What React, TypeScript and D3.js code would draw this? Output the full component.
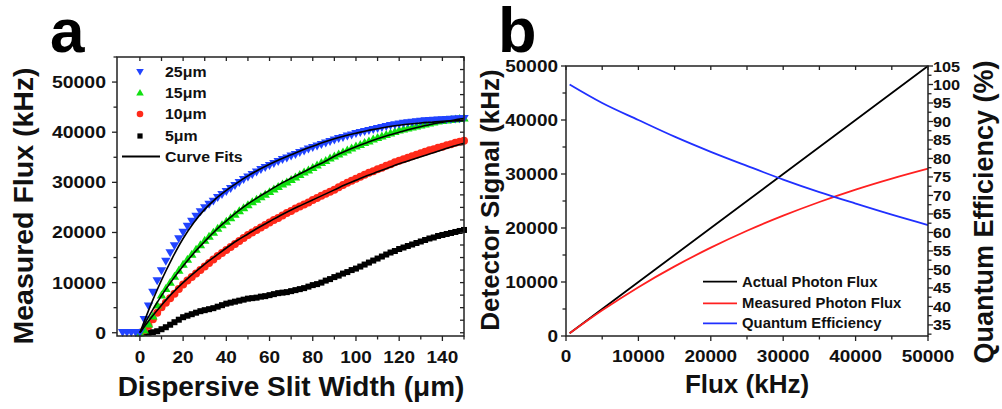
import React from "react";
import * as d3 from "d3";

// ---------- Panel a data ----------
const SLIT = [-8,-6,-4,-2,0,2,4,6,8,10,12,14,16,18,20,22,24,26,28,30,32,34,36,38,40,42,44,46,48,50,52,54,56,58,60,62,64,66,68,70,72,74,76,78,80,82,84,86,88,90,92,94,96,98,100,102,104,106,108,110,112,114,116,118,120,122,124,126,128,130,132,134,136,138,140,142,144,146,148,150];

const S25 = [0,0,0,0,0,2600,5300,8000,10300,12300,14200,15900,17300,18700,20000,21200,22200,23200,24100,24900,25600,26200,26900,27500,28100,28700,29300,29900,30500,31000,31500,32000,32500,32900,33300,33700,34100,34500,34800,35200,35500,35900,36200,36600,36900,37200,37500,37800,38100,38400,38700,38900,39200,39400,39700,39900,40100,40300,40500,40700,40900,41100,41300,41450,41600,41750,41850,41950,42050,42150,42250,42300,42350,42400,42450,42500,42550,42600,42650,42700];

const S15 = [null,null,null,null,0,600,1800,3400,5600,7600,8900,10100,11300,12500,13700,14700,15700,16700,17600,18500,19300,20100,20900,21600,22300,23000,23700,24400,25000,25600,26200,26700,27200,27700,28200,28700,29200,29700,30100,30600,31100,31600,32100,32500,33000,33500,34000,34400,34900,35300,35700,36100,36500,36900,37300,37600,38000,38300,38700,39000,39300,39600,39900,40200,40500,40700,40900,41100,41300,41500,41700,41900,42100,42300,42400,42500,42600,42700,42800,42900];

const S10 = [null,null,null,null,0,500,1400,2700,4000,5100,6000,6900,7800,8700,9600,10400,11100,11800,12500,13200,13900,14600,15300,15900,16500,17100,17700,18300,18900,19500,20000,20500,21000,21500,22000,22500,22900,23400,23900,24300,24800,25200,25600,26000,26500,26900,27300,27700,28100,28500,29000,29450,29900,30300,30700,31100,31500,31900,32200,32600,32900,33300,33600,34000,34300,34600,34900,35200,35500,35800,36100,36400,36600,36900,37100,37400,37600,37900,38100,38300];

const S5 = [null,null,null,null,0,0,0,100,300,700,1100,1600,2100,2600,3100,3400,3700,4000,4300,4500,4700,4900,5200,5500,5800,6000,6200,6400,6600,6800,6900,7000,7200,7300,7500,7700,7900,8000,8100,8300,8500,8700,8900,9200,9500,9700,10000,10400,10700,11100,11400,11800,12100,12500,12800,13200,13600,14000,14400,14800,15200,15600,16000,16300,16700,17000,17300,17600,17900,18200,18500,18800,19000,19300,19500,19700,19900,20100,20300,20500];

const FIT_X = [0,5,10,15,20,25,30,35,40,45,50,55,60,65,70,75,80,85,90,95,100,105,110,115,120,125,130,135,140,145,150];
const FIT25 = [0,5500,10500,14900,18800,22000,24600,26700,28400,29900,31300,32500,33600,34600,35500,36400,37200,38000,38700,39300,39800,40300,40700,41100,41400,41650,41850,42000,42150,42250,42300];
const FIT15 = [0,3900,7400,10500,13300,15900,18200,20400,22300,24100,25700,27100,28400,29700,30800,31900,33000,34000,35200,36200,37100,37900,38700,39400,40000,40600,41100,41600,42000,42400,42700];
const FIT10 = [0,2900,5500,7900,10000,11900,13700,15300,16900,18400,19700,21000,22200,23400,24500,25500,26500,27500,28500,29500,30400,31300,32100,32900,33700,34400,35100,35800,36500,37200,37800];

const A_XTICKS = [0,20,40,60,80,100,120,140];
const A_YTICKS = [0,10000,20000,30000,40000,50000];
const A_LEGEND = ["25\u03bcm","15\u03bcm","10\u03bcm","5\u03bcm","Curve Fits"];

// ---------- Panel b data ----------
const FLUX = [500,5000,10000,15000,20000,25000,30000,35000,40000,45000,50000];
const ACTUAL = [500,5000,10000,15000,20000,25000,30000,35000,40000,45000,50000];
const MEASURED = [500,4750,9040,12890,16360,19500,22290,24820,27120,29160,31000];
const QE = [100.0,95.0,90.4,85.9,81.8,78.0,74.3,70.9,67.8,64.8,62.0];

const B_XTICKS = [0,10000,20000,30000,40000,50000];
const B_YTICKS = [0,10000,20000,30000,40000,50000];
const B_RTICKS = [35,40,45,50,55,60,65,70,75,80,85,90,95,100,105];
const B_LEGEND = ["Actual Photon Flux","Measured Photon Flux","Quantum Efficiency"];

const FONT = "'Liberation Sans', Arial, Helvetica, sans-serif";
const BLUE = "#2244ff";
const GREEN = "#11e011";
const RED = "#ff2a1a";
const AXC = "#222";

function T({ x, y, s = 1, size, anchor = "start", children }: any) {
  return (
    <text
      transform={`translate(${x},${y}) scale(${s},1)`}
      fontSize={size}
      fontWeight="bold"
      fontFamily={FONT}
      textAnchor={anchor}
      fill="#111"
    >
      {children}
    </text>
  );
}

export default function App() {
  // panel a scales
  const ax = d3.scaleLinear().domain([-10.6, 150]).range([117, 464]);
  const ay = d3.scaleLinear().domain([-650, 55000]).range([336, 57]);
  // panel b scales
  const bx = d3.scaleLinear().domain([0, 50000]).range([566, 928]);
  const by = d3.scaleLinear().domain([0, 50000]).range([336, 66]);
  const br = d3.scaleLinear().domain([32, 105]).range([336, 66]);

  const fitLine = d3
    .line<number>()
    .x((_, i) => ax(FIT_X[i]))
    .y((d) => ay(d))
    .curve(d3.curveMonotoneX);

  const bLine = (vals: number[], yS: any) =>
    d3
      .line<number>()
      .x((_, i) => bx(FLUX[i]))
      .y((d) => yS(d))
      .curve(d3.curveMonotoneX)(vals) as string;

  const tri = (cx: number, cy: number, down: boolean, r = 3.8) =>
    down
      ? `M${cx - r},${cy - r * 0.8}L${cx + r},${cy - r * 0.8}L${cx},${cy + r * 0.9}Z`
      : `M${cx - r},${cy + r * 0.8}L${cx + r},${cy + r * 0.8}L${cx},${cy - r * 0.9}Z`;

  const pts = (arr: (number | null)[]) =>
    SLIT.map((x, i) => ({ x, v: arr[i] })).filter((p) => p.v !== null) as { x: number; v: number }[];

  // ticks
  const aXMinor = d3.range(0, 151, 10);
  const aYMinorL = d3.range(0, 55001, 5000);
  const aYMinorR = d3.range(0, 55001, 2500);
  const bXMinor = d3.range(0, 50001, 5000);
  const bYMinor = d3.range(0, 50001, 5000);
  const bRMinor = d3.range(32.5, 105.01, 2.5);

  const aLeft = 117, aRight = 464, aTop = 57, aBot = 336;
  const bLeft = 566, bRight = 928, bTop = 66, bBot = 336;

  return (
    <svg
      width={1002}
      height={409}
      style={{ position: "absolute", left: 0, top: 0, background: "#fff" }}
    >
      <rect x={0} y={0} width={1002} height={409} fill="#fff" />

      {/* ===== Panel a ===== */}
      <text x={50} y={52} fontSize={62} fontWeight="bold" fontFamily={FONT} fill="#000">a</text>

      {/* data */}
      <g>
        {pts(S5).map((p, i) => (
          <rect key={"k" + i} x={ax(p.x) - 3} y={ay(p.v) - 3} width={6} height={6} fill="#000" />
        ))}
        {pts(S10).map((p, i) => (
          <circle key={"r" + i} cx={ax(p.x)} cy={ay(p.v)} r={4} fill={RED} />
        ))}
        {pts(S15).map((p, i) => (
          <path key={"g" + i} d={tri(ax(p.x), ay(p.v), false, 4.7)} fill={GREEN} />
        ))}
        {pts(S25).map((p, i) => (
          <path key={"b" + i} d={tri(ax(p.x), ay(p.v), true, 4.7)} fill={BLUE} />
        ))}
      </g>
      <g fill="none" stroke="#000" strokeWidth={1.6}>
        <path d={fitLine(FIT25) as string} />
        <path d={fitLine(FIT15) as string} />
        <path d={fitLine(FIT10) as string} />
      </g>

      {/* frame & ticks */}
      <rect x={aLeft} y={aTop} width={aRight - aLeft} height={aBot - aTop} fill="none" stroke={AXC} strokeWidth={1.5} />
      <g stroke={AXC} strokeWidth={1.3}>
        {aXMinor.map((v) => {
          const major = v % 20 === 0;
          const x = ax(v);
          return (
            <g key={"ax" + v}>
              <line x1={x} x2={x} y1={aBot} y2={aBot + (major ? 5 : 3.5)} />
              <line x1={x} x2={x} y1={aTop} y2={aTop + 4} />
            </g>
          );
        })}
        {aYMinorL.map((v) => {
          const major = v % 10000 === 0;
          const y = ay(v);
          return <line key={"ayl" + v} x1={aLeft} x2={aLeft - (major ? 5 : 3.5)} y1={y} y2={y} />;
        })}
        {aYMinorR.map((v) => {
          const y = ay(v);
          return <line key={"ayr" + v} x1={aRight} x2={aRight - 4} y1={y} y2={y} />;
        })}
      </g>
      {A_XTICKS.map((v) => (
        <T key={"axl" + v} x={ax(v)} y={363} s={1.15} size={16.5} anchor="middle">{v}</T>
      ))}
      {A_YTICKS.map((v) => (
        <T key={"ayl" + v} x={106} y={ay(v) + 6} s={1.18} size={16.5} anchor="end">{v}</T>
      ))}
      <text x={291} y={396} fontSize={28} fontWeight="bold" fontFamily={FONT} textAnchor="middle" fill="#111">
        Dispersive Slit Width ({"\u03bc"}m)
      </text>
      <text transform="translate(33,206) rotate(-90)" fontSize={28.5} fontWeight="bold" fontFamily={FONT} textAnchor="middle" fill="#111">
        Measured Flux (kHz)
      </text>

      {/* legend a */}
      <path d={tri(140, 72, true)} fill={BLUE} />
      <path d={tri(140, 92.5, false)} fill={GREEN} />
      <circle cx={140} cy={114} r={3.3} fill={RED} />
      <rect x={137.4} y={133.4} width={5.2} height={5.2} fill="#000" />
      <line x1={122} x2={160} y1={156.5} y2={156.5} stroke="#000" strokeWidth={1.8} />
      {A_LEGEND.map((t, i) => (
        <T key={"al" + i} x={165} y={[77, 97.5, 119, 141, 161.5][i]} s={1.12} size={14.2}>{t}</T>
      ))}

      {/* ===== Panel b ===== */}
      <text x={498} y={52} fontSize={63} fontWeight="bold" fontFamily={FONT} fill="#000">b</text>

      <g fill="none" strokeWidth={1.8}>
        <path d={bLine(ACTUAL, by)} stroke="#000" />
        <path d={bLine(MEASURED, by)} stroke="#ff2020" />
        <path d={bLine(QE, br)} stroke="#2030ff" />
      </g>

      <rect x={bLeft} y={bTop} width={bRight - bLeft} height={bBot - bTop} fill="none" stroke={AXC} strokeWidth={1.5} />
      <g stroke={AXC} strokeWidth={1.3}>
        {bXMinor.map((v) => {
          const major = v % 10000 === 0;
          const x = bx(v);
          return (
            <g key={"bx" + v}>
              <line x1={x} x2={x} y1={bBot} y2={bBot + (major ? 5 : 3.5)} />
              <line x1={x} x2={x} y1={bTop} y2={bTop + 4} />
            </g>
          );
        })}
        {bYMinor.map((v) => {
          const major = v % 10000 === 0;
          const y = by(v);
          return <line key={"byl" + v} x1={bLeft} x2={bLeft - (major ? 5 : 3.5)} y1={y} y2={y} />;
        })}
        {bRMinor.map((v) => {
          const major = Math.abs(v % 5) < 1e-6;
          const y = br(v);
          return <line key={"bri" + v} x1={bRight} x2={bRight + (major ? 5 : 3.5)} y1={y} y2={y} />;
        })}
      </g>
      {B_XTICKS.map((v) => (
        <T key={"bxl" + v} x={bx(v)} y={362} s={1.15} size={16.5} anchor="middle">{v}</T>
      ))}
      {B_YTICKS.map((v) => (
        <T key={"byl" + v} x={558} y={by(v) + 6} s={1.15} size={16.5} anchor="end">{v}</T>
      ))}
      {B_RTICKS.map((v) => (
        <T key={"brl" + v} x={933} y={br(v) + 5.5} s={1.05} size={15.5}>{v}</T>
      ))}
      <text x={747} y={393} fontSize={26} fontWeight="bold" fontFamily={FONT} textAnchor="middle" fill="#111">
        Flux (kHz)
      </text>
      <text transform="translate(499,200) rotate(-90)" fontSize={26} fontWeight="bold" fontFamily={FONT} textAnchor="middle" fill="#111">
        Detector Signal (kHz)
      </text>
      <text transform="translate(993,212) rotate(-90)" fontSize={27} fontWeight="bold" fontFamily={FONT} textAnchor="middle" fill="#111">
        Quantum Efficiency (%)
      </text>

      {/* legend b */}
      {B_LEGEND.map((t, i) => {
        const y = [281.7, 303.3, 323.3][i];
        const c = ["#000", "#ff2020", "#2030ff"][i];
        return (
          <g key={"bl" + i}>
            <line x1={703} x2={737} y1={y} y2={y} stroke={c} strokeWidth={1.8} />
            <T x={742} y={y + 5} s={1.04} size={14.3}>{t}</T>
          </g>
        );
      })}
    </svg>
  );
}
